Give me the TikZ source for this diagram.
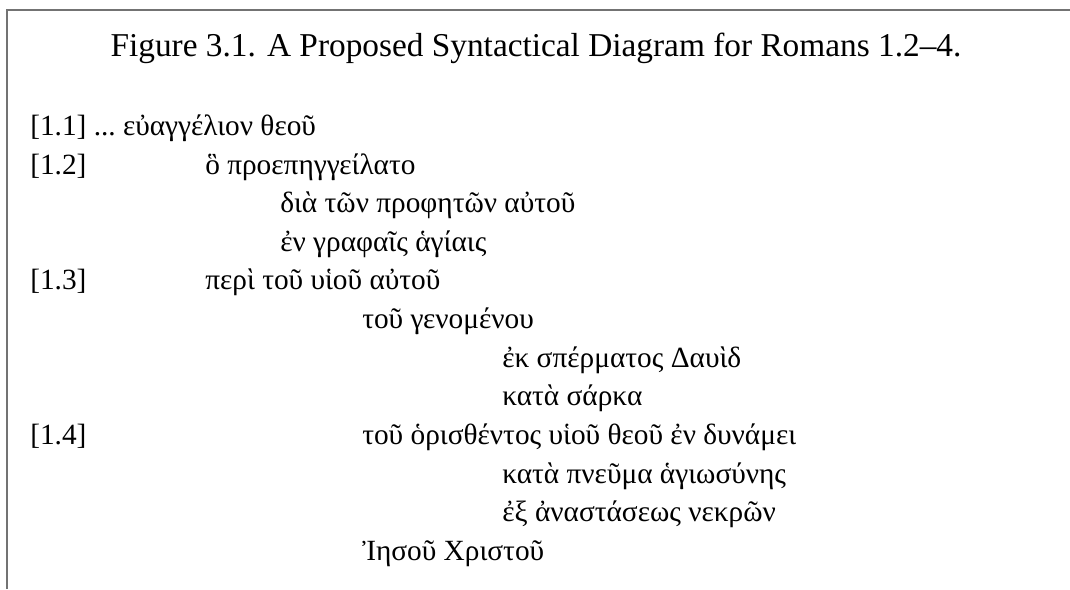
\documentclass[tikz,border=0pt]{standalone}
\usepackage{fontspec}
\setmainfont{Liberation Serif}
\newfontfamily\greekfont{Liberation Serif}

\begin{document}
\begin{tikzpicture}[
        x=0.75pt, y=-0.75pt,
        every node/.style={
            inner sep=0pt,
            anchor=base west
        },
        verse/.style={font=\fontsize{22}{22}\selectfont},
        greek/.style={font=\greekfont\fontsize{22}{22}\selectfont},
        frame/.style={draw=black!55, line width=1.6pt}
    ]

        \useasboundingbox (0,0) rectangle (1070,589);

        % rámeček
        \draw[frame] (7,589) -- (7,10) -- (1070,10);

        % nadpis
        \node[font=\fontsize{25}{25}\selectfont, anchor=base] (title) at (536,56)
            {Figure 3.1. A Proposed Syntactical Diagram for Romans 1.2--4.};

        % verš 1.1
        \node[verse] (v11) at (30,135) {[1.1] ...};
        \node[greek] (euang) at ([xshift=5pt]v11.base east) {εὐαγγέλιον θεοῦ};

        % verš 1.2
        \node[verse] (v12) at (30,174) {[1.2]};
        \node[greek] (ho) at (205,174) {ὃ προεπηγγείλατο};
        \node[greek] (dia) at (280,212) {διὰ τῶν προφητῶν αὐτοῦ};
        \node[greek] (en) at (280,251) {ἐν γραφαῖς ἁγίαις};

        % verš 1.3
        \node[verse] (v13) at (30,289) {[1.3]};
        \node[greek] (peri) at (205,289) {περὶ τοῦ υἱοῦ αὐτοῦ};
        \node[greek] (genom) at (362,328) {τοῦ γενομένου};
        \node[greek] (ek) at (502,367) {ἐκ σπέρματος Δαυὶδ};
        \node[greek] (kata) at (502,405) {κατὰ σάρκα};

        % verš 1.4
        \node[verse] (v14) at (30,444) {[1.4]};
        \node[greek] (horis) at (362,444) {τοῦ ὁρισθέντος υἱοῦ θεοῦ ἐν δυνάμει};
        \node[greek] (pneuma) at (502,483) {κατὰ πνεῦμα ἁγιωσύνης};
        \node[greek] (anast) at (502,521) {ἐξ ἀναστάσεως νεκρῶν};
        \node[greek] (iesou) at (362,560) {Ἰησοῦ Χριστοῦ};

    \end{tikzpicture}
\end{document}
